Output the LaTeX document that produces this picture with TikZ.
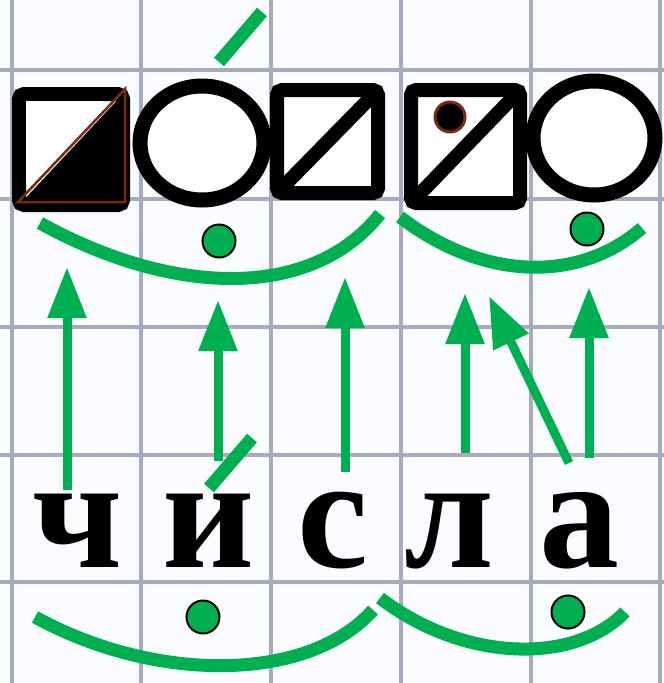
\documentclass[tikz,border=0pt]{standalone}
\usepackage{fontspec}
\setmainfont{Liberation Serif}
\usepackage{tikz}
\usetikzlibrary{arrows.meta,positioning,calc}
\definecolor{MarkGreen}{RGB}{0,176,80}
\definecolor{GridColor}{RGB}{168,171,192}
\definecolor{PaperColor}{RGB}{251,252,255}
\definecolor{EdgeBrown}{RGB}{122,42,14}
\tikzset{
  gridline/.style={GridColor, line width=4pt},
  schemebox/.style={draw=black, fill=white, line width=14pt, rounded corners=5pt},
  schemering/.style={draw=black, fill=white, line width=15pt},
  smile/.style={MarkGreen, line width=13pt},
  stressdot/.style={circle, fill=MarkGreen, draw=black, line width=2pt, minimum size=33pt, inner sep=0pt},
  soundarrow/.style={MarkGreen, line width=9pt, -{Triangle[width=37pt,length=51pt]}},
  accentmark/.style={MarkGreen, line width=13pt},
  letter/.style={font=\fontsize{160pt}{160pt}\bfseries\selectfont, inner sep=0pt, anchor=base},
}

\begin{document}
\begin{tikzpicture}[x=1pt, y=-1pt]
  \useasboundingbox[fill=PaperColor] (0,0) rectangle (664,683);
  % graph paper
  \foreach \gx in {12,141,271,401,531,660} {
    \draw[gridline] (\gx,0) -- (\gx,683);
  }
  \foreach \gy in {70,199,327,455,582} {
    \draw[gridline] (0,\gy) -- (664,\gy);
  }

  % sound scheme
  \fill[black] (19,205) -- (123,94) -- (123,205) -- cycle;
  \draw[schemebox, fill=none] (19,94) rectangle (123,205);
  \fill[white] (26,101) -- (103,101) -- (26,183) -- cycle;
  \draw[EdgeBrown, line width=2.5pt] (18,202) -- (125,89) -- (125,202) -- cycle;
  \draw[schemering] (202,143) ellipse [x radius=62, y radius=57];
  \draw[schemebox] (277,90) rectangle (378,193);
  \draw[line width=14pt] (277,193) -- (378,90);
  \draw[schemebox] (411,90) rectangle (520,203);
  \draw[line width=14pt] (411,203) -- (520,90);
  \draw[schemering] (594,138) ellipse [x radius=61, y radius=57];
  \fill[black, draw=EdgeBrown, line width=3pt] (450,117) circle (15);
  \draw[accentmark] (219,62) -- (262,12);

  \draw[smile] (40,223) .. controls (170,295) and (310,302) .. (380,214);
  \draw[smile] (400,217) .. controls (485,282) and (580,282) .. (642,228);

  % word
  \foreach \name/\x/\ch in {ch/78/ч, i/209/и, s/333/с, l/449/л, a/579/а} {
    \node[letter] (\name) at (\x,567) {\ch};
  }
  \draw[accentmark] (209,488) -- (252,438);

  \draw[smile] (35,617) .. controls (155,683) and (308,683) .. (373,610);
  \draw[smile] (380,598) .. controls (465,663) and (575,664) .. (625,612);

  \foreach \name/\x/\y in {d1/219/241, d2/587/229, d3/203/617, d4/568/612} {
    \node[stressdot] (\name) at (\x,\y) {};
  }

  \foreach \n/\xa/\ya/\xb/\yb in {1/67/490/67/267, 2/218/461/218/300,
    3/345/472/345/277, 4/465/453/465/293, 5/569/463/489/296, 6/589/458/589/287} {
    \coordinate (foot\n) at (\xa,\ya);
    \coordinate (head\n) at (\xb,\yb);
    \draw[soundarrow] (foot\n) -- (head\n);
  }
\end{tikzpicture}
\end{document}
